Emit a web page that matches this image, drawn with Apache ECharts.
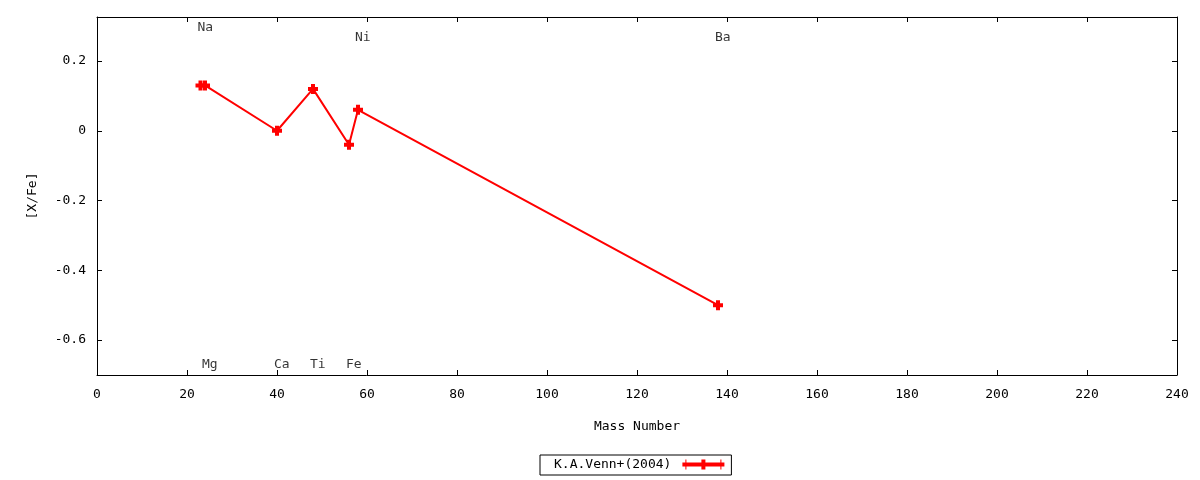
<!DOCTYPE html>
<html>
<head>
<meta charset="utf-8">
<script src="https://cdn.jsdelivr.net/npm/echarts@6/dist/echarts.min.js"></script>
<style>html,body{margin:0;padding:0;background:#fff}#c{width:1200px;height:480px}</style>
</head>
<body>
<div id="c"></div>
<script>
// Data
var elements = ['Na', 'Mg', 'Ca', 'Ti', 'Fe', 'Ni', 'Ba'];
var massNumbers = [23, 24, 40, 48, 56, 58, 138];
var abundances = [0.13, 0.13, 0.00, 0.12, -0.04, 0.06, -0.50];
var labelY = [0.295, -0.67, -0.67, -0.67, -0.67, 0.267, 0.267];
var yTicks = [-0.6, -0.4, -0.2, 0, 0.2];
var seriesName = 'K.A.Venn+(2004)';

var FONT = 'DejaVu Sans Mono';
var plus = 'path://M3,0H7V3H10V7H7V10H3V7H0V3H3Z';

var chart = echarts.init(document.getElementById('c'));
var tickStyle = {show: true, inside: true, length: 5, lineStyle: {color: '#000', width: 1}};
var lineStyle = {show: true, onZero: false, lineStyle: {color: '#000', width: 1}};

chart.setOption({
  animation: false,
  textStyle: {fontFamily: FONT},
  grid: {left: 97, right: 23, top: 17, bottom: 105, containLabel: false},
  legend: {
    left: 540, top: 455,
    data: [{name: seriesName, icon: 'path://M0,3H3V0H4V3H19V0H23V3H38V0H39V3H42V7H39V10H38V7H23V10H19V7H4V10H3V7H0Z'}],
    align: 'right',
    itemWidth: 42, itemHeight: 10,
    itemGap: 0,
    padding: [3, 7, 4, 14],
    borderColor: '#000', borderWidth: 1, borderRadius: 0,
    textStyle: {fontFamily: FONT, fontSize: 13, color: '#000', padding: [0, 6, 0, 0]},
    itemStyle: {color: '#ff0000'}
  },
  xAxis: [{
    type: 'value', min: 0, max: 240, interval: 20, position: 'bottom',
    name: 'Mass Number', nameLocation: 'middle', nameGap: 45,
    nameTextStyle: {fontFamily: FONT, fontSize: 13, color: '#000'},
    axisLine: lineStyle, axisTick: tickStyle, splitLine: {show: false},
    axisLabel: {fontFamily: FONT, fontSize: 13, color: '#000', margin: 13}
  }, {
    type: 'value', min: 0, max: 240, interval: 20, position: 'top',
    axisLine: lineStyle, axisTick: tickStyle, splitLine: {show: false},
    axisLabel: {show: false}
  }],
  yAxis: [{
    type: 'value', min: -0.7, max: 0.326, position: 'left',
    name: '[X/Fe]', nameLocation: 'middle', nameGap: 58, nameRotate: 90,
    nameTextStyle: {fontFamily: FONT, fontSize: 13, color: '#000'},
    axisLine: lineStyle,
    axisTick: {show: true, inside: true, length: 5, lineStyle: {color: '#000'}, customValues: yTicks},
    splitLine: {show: false},
    axisLabel: {fontFamily: FONT, fontSize: 13, color: '#000', margin: 11, customValues: yTicks,
      formatter: function (v) { return String(Math.round(v * 10) / 10); }}
  }, {
    type: 'value', min: -0.7, max: 0.326, position: 'right',
    axisLine: lineStyle,
    axisTick: {show: true, inside: true, length: 5, lineStyle: {color: '#000'}, customValues: yTicks},
    splitLine: {show: false},
    axisLabel: {show: false}
  }],
  series: [{
    name: seriesName, type: 'line',
    xAxisIndex: 0, yAxisIndex: 0,
    data: massNumbers.map(function (m, i) { return [m, abundances[i]]; }),
    symbol: plus, symbolSize: 10, showAllSymbol: true,
    lineStyle: {color: '#ff0000', width: 2},
    itemStyle: {color: '#ff0000'},
    z: 3
  }, {
    name: 'labels', type: 'scatter',
    xAxisIndex: 0, yAxisIndex: 0,
    data: massNumbers.map(function (m, i) { return [m, labelY[i], elements[i]]; }),
    symbolSize: 0, silent: true,
    label: {
      show: true, position: [-3, 0], align: 'left', verticalAlign: 'middle',
      fontFamily: FONT, fontSize: 13, color: '#000',
      formatter: function (p) { return p.value[2]; }
    }
  }]
});
</script>
</body>
</html>
